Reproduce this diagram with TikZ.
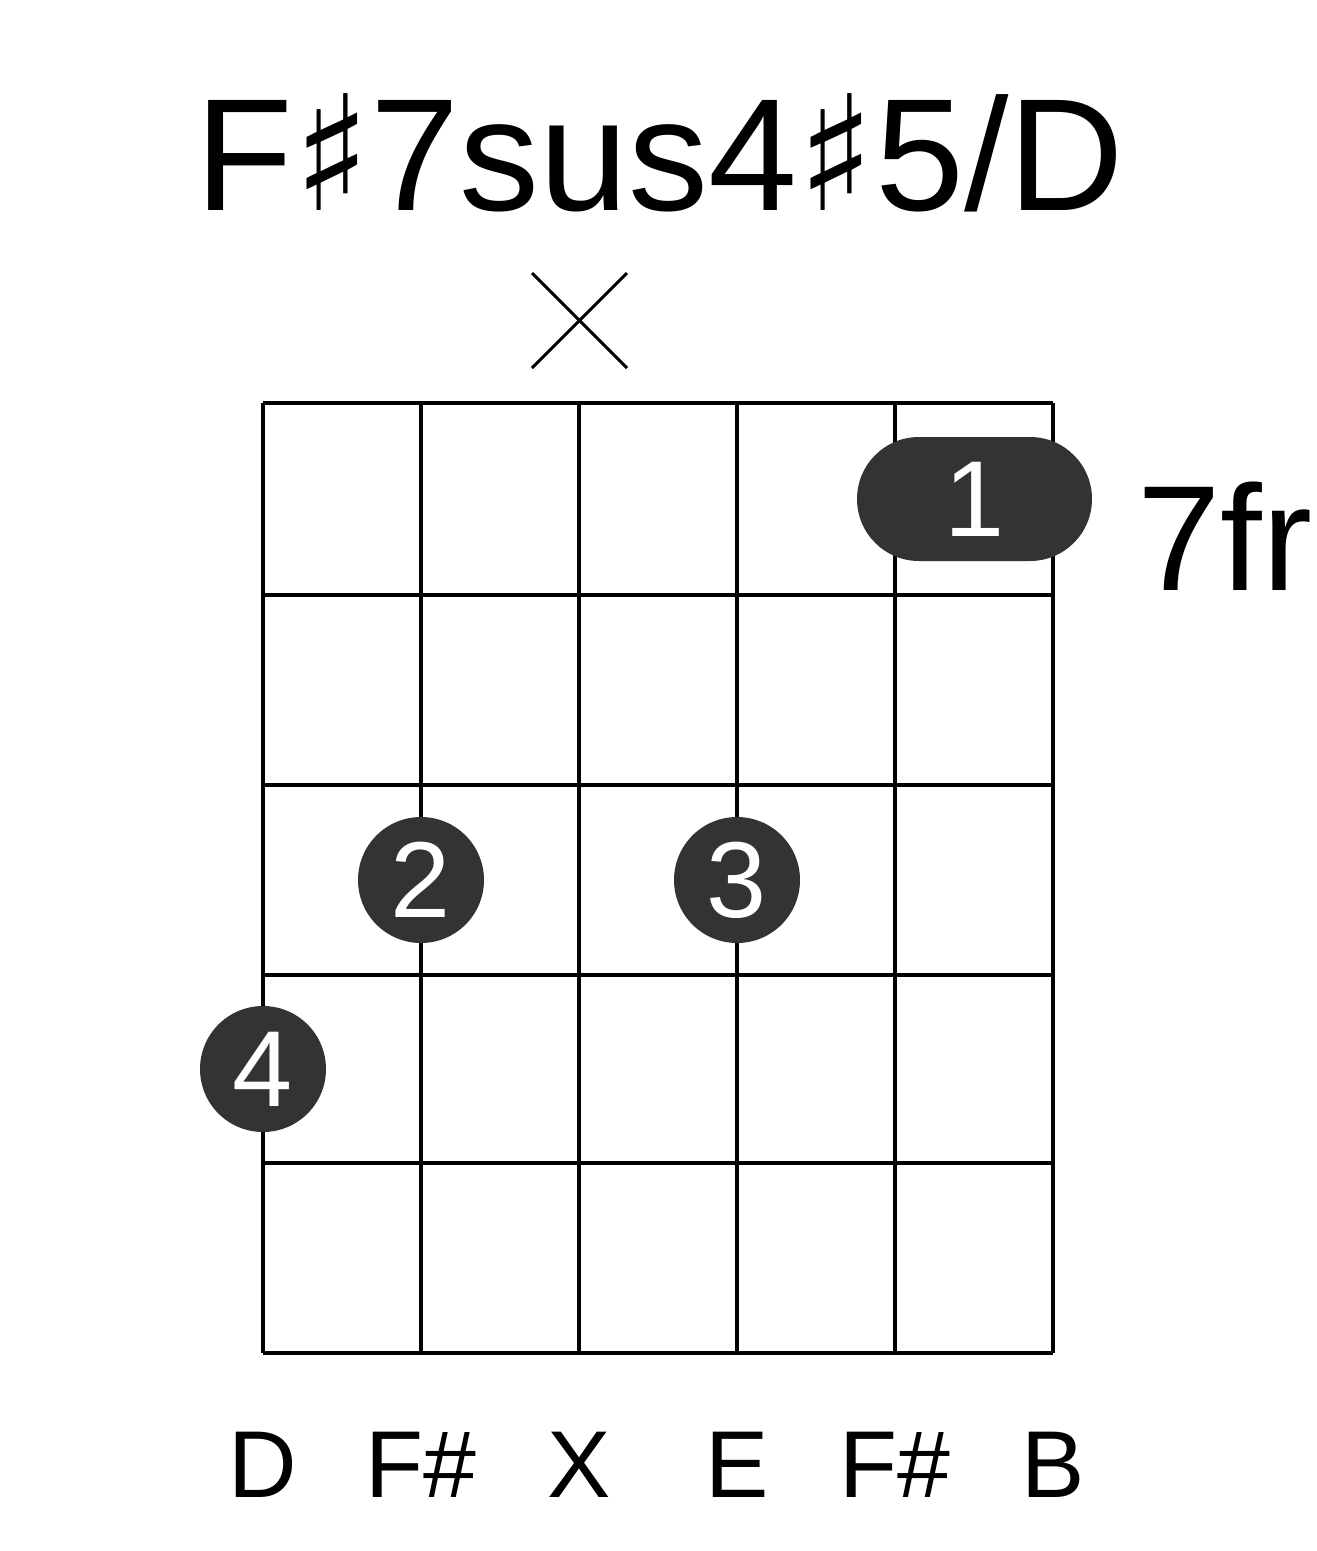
\documentclass[tikz,border=0pt]{standalone}
\usepackage{fontspec}
\setmainfont{Liberation Sans}
\newfontfamily\dv{DejaVu Sans}
\begin{document}
\begin{tikzpicture}[x=1pt,y=-1pt,
  grid/.style={line width=4pt},
  dot/.style={circle,fill=black!80,minimum size=126pt,inner sep=0pt,text=white,font=\fontsize{108}{108}\selectfont},
  lbl/.style={anchor=base,font=\fontsize{95}{95}\selectfont}]
\useasboundingbox (0,0) rectangle (1317,1551);
\node[anchor=base,font=\fontsize{160}{160}\selectfont] (title) at (660,210) {F{\dv\char"266F}7sus4{\dv\char"266F}5/D};
\draw[line width=3pt] (532,273) coordinate (xa) -- (627,368) coordinate (xb);
\draw[line width=3pt] (532,368) coordinate (xc) -- (627,273) coordinate (xd);
\foreach \x in {263,421,579,737,895,1053} \draw[grid] (\x,403) -- (\x,1353);
\foreach \y in {403,595,785,975,1163,1353} \draw[grid] (263,\y) -- (1053,\y);
\fill[black!80,rounded corners=62pt] (857,437) rectangle (1092,561);
\node[text=white,font=\fontsize{108}{108}\selectfont] (b1) at (974.5,499) {1};
\node[dot] (d2) at (421,880) {2};
\node[dot] (d3) at (737,880) {3};
\node[dot] (d4) at (263,1069) {4};
\node[anchor=base west,inner sep=0pt,font=\fontsize{150}{150}\selectfont] (fr) at (1137,590) {7fr};
\node[lbl] (s1) at (263,1497) {D};
\node[lbl] (s2) at (421,1497) {F\#};
\node[lbl] (s3) at (579,1497) {X};
\node[lbl] (s4) at (737,1497) {E};
\node[lbl] (s5) at (895,1497) {F\#};
\node[lbl] (s6) at (1053,1497) {B};
\end{tikzpicture}
\end{document}
